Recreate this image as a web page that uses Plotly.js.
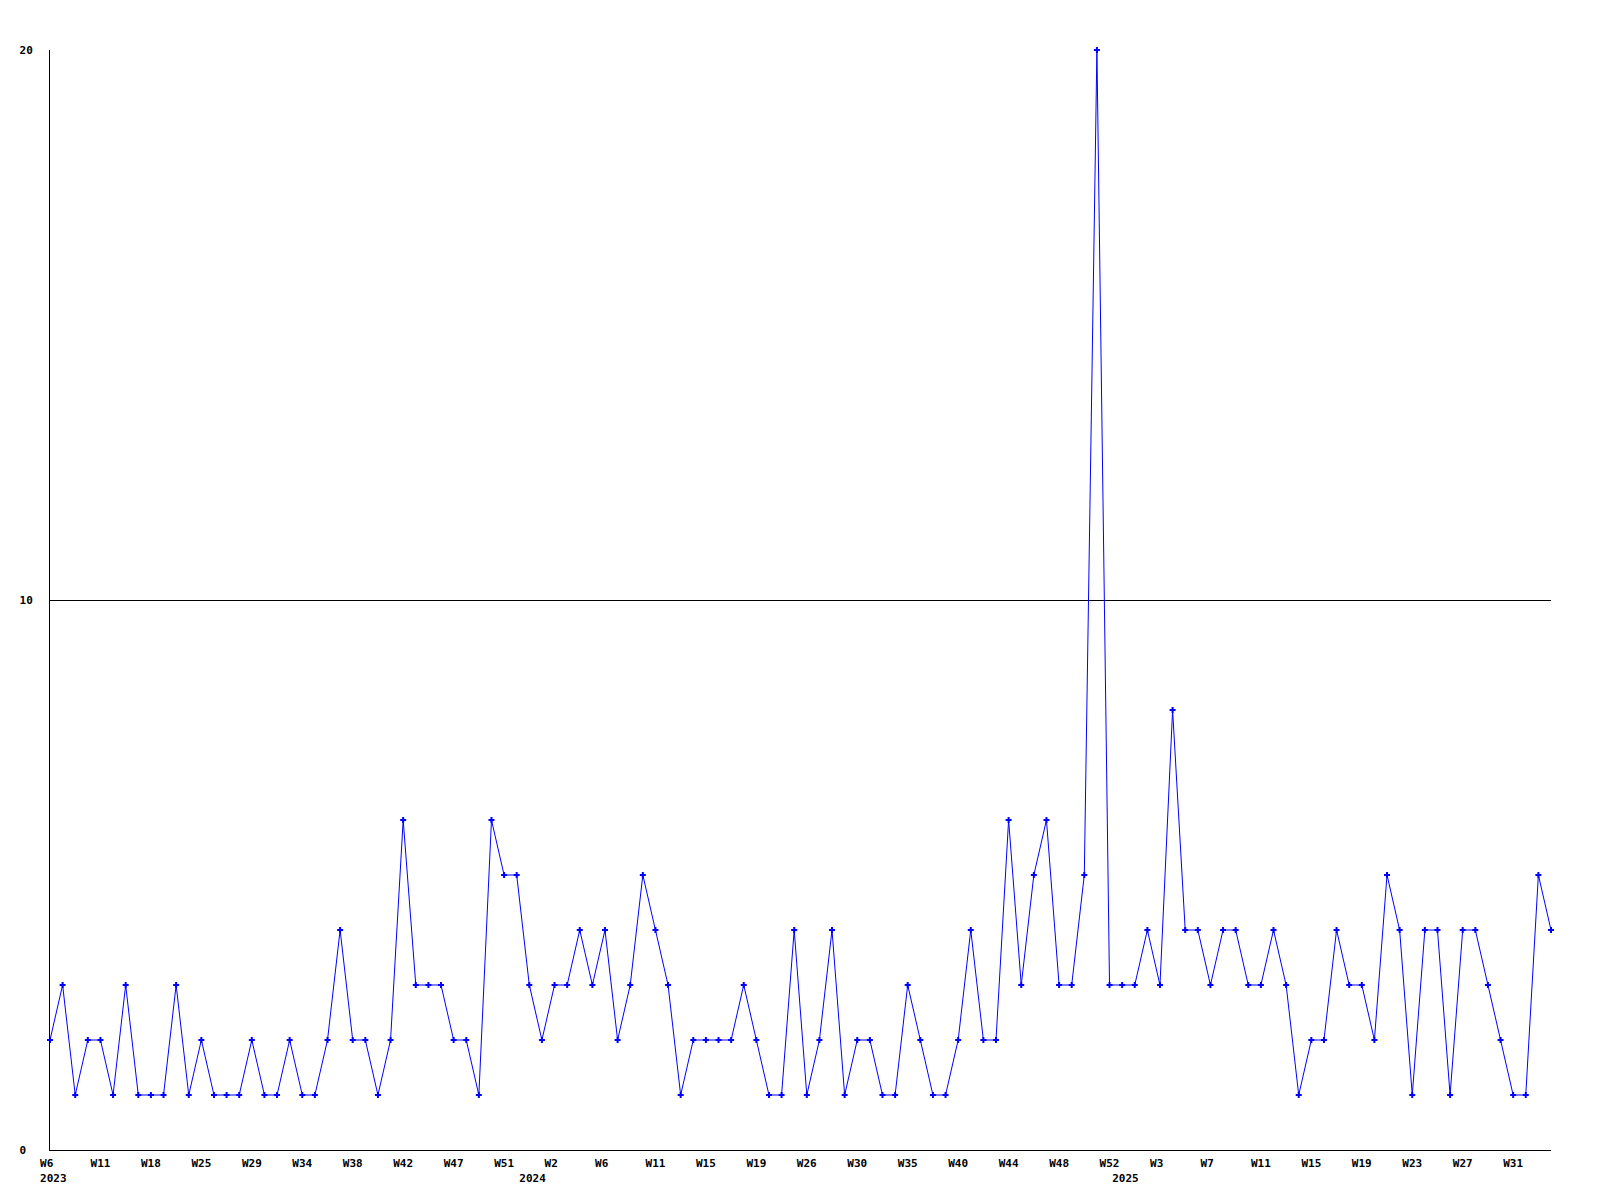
<!DOCTYPE html>
<html>
<head>
<meta charset="utf-8">
<script src="https://cdn.plot.ly/plotly-3.0.1.min.js"></script>
<style>
html,body{margin:0;padding:0;background:#fff;}
#chart{width:1600px;height:1200px;}
</style>
</head>
<body>
<div id="chart"></div>
<script>
// week numbers of the weeks that have data, per year
var weeks2023 = [6,7,8,10, 11,12,14,16, 18,19,21,23, 25,26,27,28, 29,30,31,33, 34,35,36,37, 38,39,40,41, 42,43,44,46, 47,48,49,50, 51,52];
var weeks2024 = [0,1, 2,3,4,5, 6,7,8,10, 11,12,13,14, 15,16,17,18, 19,21,23,24, 26,27,28,29, 30,31,32,34, 35,36,38,39, 40,41,42,43, 44,45,46,47, 48,49,50,51, 52];
var weeks2025 = [0,1,2, 3,4,5,6, 7,8,9,10, 11,12,13,14, 15,16,17,18, 19,20,21,22, 23,24,25,26, 27,28,29,30, 31,32,33,34];

// weekly counts
var counts2023 = [2,3,1,2,2,1,3,1,1,1,3,1,2,1,1,1,2,1,1,2,1,1,2,4,2,2,1,2,6,3,3,3,2,2,1,6,5,5];
var counts2024 = [3,2,3,3,4,3,4,2,3,5,4,3,1,2,2,2,2,3,2,1,1,4,1,2,4,1,2,2,1,1,3,2,1,1,2,4,2,2,6,3,5,6,3,3,5,20,3];
var counts2025 = [3,3,4,3,8,4,4,3,4,4,3,3,4,3,1,2,2,4,3,3,2,5,4,1,4,4,1,4,4,3,2,1,1,5,4];

var years = ["2023","2024","2025"];
var yTickVals = [0,10,20];
var yTickText = ["0\u00a0","10","20"];

var NB = "\u00a0";

// build categories
var cats = [], vals = [], weekNames = [], firstOfYear = {};
[[weeks2023,counts2023],[weeks2024,counts2024],[weeks2025,counts2025]].forEach(function(p, yi){
  p[0].forEach(function(w, i){
    var c = years[yi] + "-W" + w;
    if (i === 0) firstOfYear[cats.length] = years[yi];
    cats.push(c);
    weekNames.push("W" + w);
    vals.push(p[1][i]);
  });
});

// labels are drawn left-aligned in the original; pad with no-break spaces
function padWeek(s){ while (s.length < 3) s = s + NB; return s; }
var tickvals = [], ticktext = [];
cats.forEach(function(c, i){
  var showWeek = (i % 4 === 0);
  var yr = firstOfYear[i];
  if (showWeek || yr) {
    tickvals.push(c);
    ticktext.push((showWeek ? padWeek(weekNames[i]) : NB) + (yr ? "<br>" + NB + yr : ""));
  }
});

var font = {family: "DejaVu Sans Mono, monospace", size: 11, color: "#000", weight: "bold"};

var trace = {
  type: "scatter",
  mode: "lines+markers",
  x: cats,
  y: vals,
  line: {color: "#0000ff", width: 1},
  marker: {color: "#0000ff", symbol: "cross", size: 5},
  cliponaxis: false,
  hoverinfo: "x+y"
};

var layout = {
  width: 1600,
  height: 1200,
  paper_bgcolor: "#fff",
  plot_bgcolor: "#fff",
  showlegend: false,
  margin: {l: 50, r: 49, t: 50, b: 50},
  font: font,
  xaxis: {
    type: "category",
    range: [0, cats.length - 1],
    tickmode: "array",
    tickvals: tickvals,
    ticktext: ticktext,
    tickangle: 0,
    showgrid: false,
    zeroline: false,
    showline: true,
    linecolor: "#000",
    linewidth: 1,
    ticks: "",
    ticklabelstandoff: 3,
    tickfont: font,
    automargin: false
  },
  yaxis: {
    range: [0, 20],
    tickmode: "array",
    tickvals: yTickVals,
    ticktext: yTickText,
    showgrid: true,
    gridcolor: "#000",
    gridwidth: 1,
    zeroline: false,
    showline: true,
    linecolor: "#000",
    linewidth: 1,
    ticks: "",
    ticklabelstandoff: 14,
    tickfont: font,
    automargin: false
  }
};

Plotly.newPlot("chart", [trace], layout, {displayModeBar: false, staticPlot: true});
</script>
</body>
</html>
